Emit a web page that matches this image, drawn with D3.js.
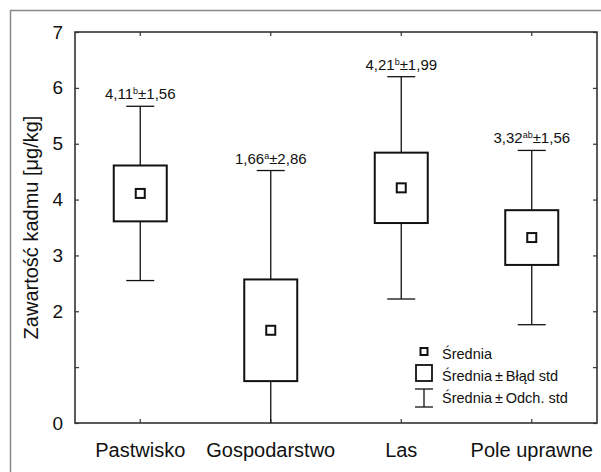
<!DOCTYPE html>
<html>
<head>
<meta charset="utf-8">
<script src="https://cdn.jsdelivr.net/npm/d3@7"></script>
<style>
  body { margin: 0; background: #fff; }
  svg { display: block; font-family: "Liberation Sans", Arial, sans-serif; }
</style>
</head>
<body>
<script>
const szerokosc = 601
const wysokosc = 472
const obszar = {lewo: 75, prawo: 597, gora: 32, dol: 423}

// dane
const kategorie = ['Pastwisko', 'Gospodarstwo', 'Las', 'Pole uprawne']
const srednie = [4.11, 1.66, 4.21, 3.32]
const odchylenia = [1.56, 2.86, 1.99, 1.56]
const bledy = [0.50, 0.91, 0.63, 0.49]
const litery = ['b', 'a', 'b', 'ab']
const tickiY = [0, 1, 2, 3, 4, 5, 6, 7]
const etykietyY = [0, 2, 3, 4, 5, 6, 7]
const legenda = ['Średnia', 'Średnia\u2009±\u2009Błąd std', 'Średnia\u2009±\u2009Odch. std']

const fmt = v => v.toFixed(2).replace('.', ',')

var svg = d3.select('body').append('svg')
  .attr('width', szerokosc)
  .attr('height', wysokosc)

// ramka zewnetrzna
svg.append('rect')
  .attr('x', 10.5).attr('y', 10.5)
  .attr('width', 700).attr('height', 600)
  .attr('fill', 'none')
  .attr('stroke', '#8a8a8a')
  .attr('stroke-width', 1.5)

var x = d3.scaleBand().domain(kategorie).range([obszar.lewo, obszar.prawo])
var y = d3.scaleLinear().domain([0, 7]).range([obszar.dol, obszar.gora]).clamp(true)

var eixo = (g, a) => g.call(a).call(g => g.select('.domain').remove())
  .call(g => g.selectAll('line').attr('stroke', '#333').attr('stroke-width', 1.2))

svg.append('g').attr('transform', 'translate(' + obszar.lewo + ',0)')
  .call(g => eixo(g, d3.axisLeft(y).tickValues(tickiY).tickSizeInner(-4).tickSizeOuter(0).tickPadding(12)
    .tickFormat(d => etykietyY.includes(d) ? d : '')))
  .selectAll('text').attr('font-size', 19).attr('fill', '#111')

svg.append('g').attr('transform', 'translate(' + obszar.prawo + ',0)')
  .call(g => eixo(g, d3.axisRight(y).tickValues(tickiY).tickSizeInner(-4).tickSizeOuter(0).tickFormat('')))

svg.append('g').attr('transform', 'translate(0,' + obszar.dol + ')')
  .call(g => eixo(g, d3.axisBottom(x).tickSizeInner(-4).tickSizeOuter(0).tickPadding(20)))
  .selectAll('text').attr('font-size', 20).attr('fill', '#111')

svg.append('g').attr('transform', 'translate(0,' + obszar.gora + ')')
  .call(g => eixo(g, d3.axisTop(x).tickSizeInner(-4).tickSizeOuter(0).tickFormat('')))

svg.append('rect')
  .attr('x', obszar.lewo).attr('y', obszar.gora)
  .attr('width', obszar.prawo - obszar.lewo).attr('height', obszar.dol - obszar.gora)
  .attr('fill', 'none')
  .attr('stroke', '#333')
  .attr('stroke-width', 1.6)

svg.append('text')
  .attr('transform', 'translate(38,' + (obszar.gora + obszar.dol) / 2 + ') rotate(-90)')
  .attr('text-anchor', 'middle')
  .attr('font-size', 20)
  .attr('fill', '#111')
  .text('Zawartość kadmu [μg/kg]')

var dane = kategorie.map((k, i) => ({k: k, m: srednie[i], sd: odchylenia[i], se: bledy[i], lit: litery[i]}))
var szerPudelka = 53
var szerWasa = 28
var szerSredniej = 9

var grupy = svg.selectAll('.kat').data(dane).join('g')
  .attr('class', 'kat')
  .attr('transform', d => 'translate(' + (x(d.k) + x.bandwidth() / 2) + ',0)')

grupy.append('line')
  .attr('y1', d => y(d.m + d.sd)).attr('y2', d => y(d.m - d.sd))
  .attr('stroke', '#111').attr('stroke-width', 1.3)

grupy.filter(d => d.m - d.sd > 0).append('line')
  .attr('x1', -szerWasa / 2).attr('x2', szerWasa / 2)
  .attr('y1', d => y(d.m - d.sd)).attr('y2', d => y(d.m - d.sd))
  .attr('stroke', '#111').attr('stroke-width', 1.3)

grupy.append('line')
  .attr('x1', -szerWasa / 2).attr('x2', szerWasa / 2)
  .attr('y1', d => y(d.m + d.sd)).attr('y2', d => y(d.m + d.sd))
  .attr('stroke', '#111').attr('stroke-width', 1.3)

grupy.append('rect')
  .attr('x', -szerPudelka / 2).attr('width', szerPudelka)
  .attr('y', d => y(d.m + d.se)).attr('height', d => y(d.m - d.se) - y(d.m + d.se))
  .attr('fill', '#fff').attr('stroke', '#111').attr('stroke-width', 2)

grupy.append('rect')
  .attr('x', -szerSredniej / 2).attr('width', szerSredniej)
  .attr('y', d => y(d.m) - szerSredniej / 2).attr('height', szerSredniej)
  .attr('fill', '#fff').attr('stroke', '#111').attr('stroke-width', 2)

var opis = grupy.append('text')
  .attr('y', d => y(d.m + d.sd) - 7)
  .attr('text-anchor', 'middle')
  .attr('font-size', 15)
  .attr('fill', '#111')
opis.append('tspan').text(d => fmt(d.m))
opis.append('tspan').attr('font-size', 9).attr('dy', -5).text(d => d.lit)
opis.append('tspan').attr('dy', 5).text(d => '±' + fmt(d.sd))

// legenda
var leg = svg.append('g').attr('transform', 'translate(424,0)')
leg.append('rect').attr('x', -3.5).attr('y', 348).attr('width', 7).attr('height', 7)
  .attr('fill', '#fff').attr('stroke', '#111').attr('stroke-width', 2)
leg.append('rect').attr('x', -8).attr('y', 365).attr('width', 16).attr('height', 16)
  .attr('fill', '#fff').attr('stroke', '#111').attr('stroke-width', 1.8)
leg.append('line').attr('x1', -9).attr('x2', 9).attr('y1', 389).attr('y2', 389).attr('stroke', '#111').attr('stroke-width', 1.3)
leg.append('line').attr('x1', -9).attr('x2', 9).attr('y1', 407).attr('y2', 407).attr('stroke', '#111').attr('stroke-width', 1.3)
leg.append('line').attr('x1', 0).attr('x2', 0).attr('y1', 389).attr('y2', 407).attr('stroke', '#111').attr('stroke-width', 1.3)
leg.selectAll('.lt').data(legenda).join('text')
  .attr('class', 'lt')
  .attr('x', 18)
  .attr('y', (d, i) => 359 + i * 22)
  .attr('font-size', 14.5)
  .attr('fill', '#111')
  .text(d => d)
</script>
</body>
</html>
